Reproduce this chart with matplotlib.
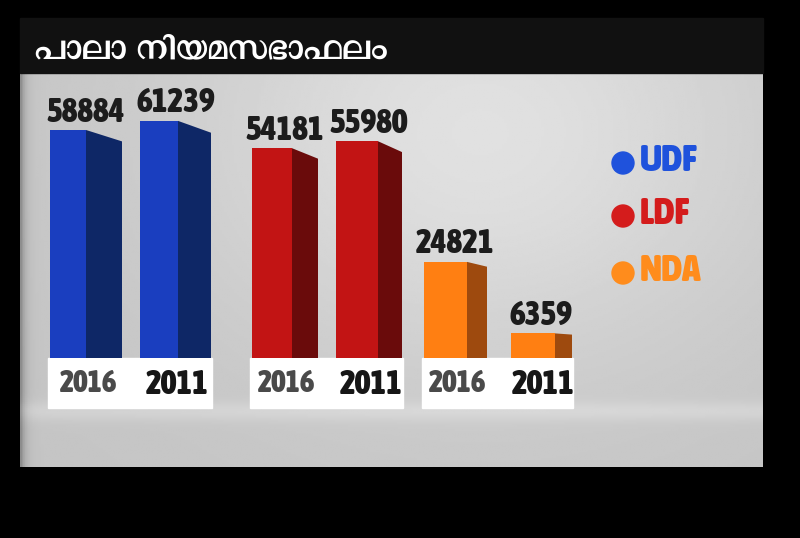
import numpy as np
import matplotlib.pyplot as plt
from matplotlib.patches import Rectangle, Polygon, Circle
from matplotlib import font_manager
from matplotlib.font_manager import FontProperties
from matplotlib.ft2font import FT2Font

# data
parties = ["UDF", "LDF", "NDA"]
years = ["2016", "2011"]
votes_2016 = [58884, 54181, 24821]
votes_2011 = [61239, 55980, 6359]
title = "പാലാ നിയമസഭാഫലം"

front_colors = ["#1a3ebf", "#c21414", "#ff7f12"]
side_colors = ["#0e2766", "#6a0b0b", "#9e4a0e"]
dot_colors = ["#1f52dc", "#d41c1c", "#ff8c1c"]

# bar layout in pixels: (front left, front right, side right)
pos_2016 = [(50, 86, 122), (252, 292, 318), (424, 467, 487)]
pos_2011 = [(140, 178, 211), (336, 378, 402), (511, 555, 572)]


def find_font(ch):
    # look for any installed font that has the glyph, bold first
    hits = []
    for f in font_manager.fontManager.ttflist:
        try:
            if ord(ch) in FT2Font(f.fname).get_charmap():
                hits.append(f)
        except Exception:
            pass
    hits.sort(key=lambda f: -int(f.weight) if str(f.weight).isdigit() else 0)
    return hits[0].fname if hits else None


def find_narrow_bold():
    best = None
    for f in font_manager.fontManager.ttflist:
        name = (f.name + " " + f.fname).lower()
        narrow = ("condensed" in name or "narrow" in name
                  or f.stretch in ("condensed", "semi-condensed", "extra-condensed"))
        w = f.weight if isinstance(f.weight, int) else 400
        if narrow and w >= 600 and "italic" not in name and "oblique" not in name:
            if best is None or w > best[0]:
                best = (w, f.fname)
    return best[1] if best else None


ml_path = find_font("\u0d2a")
narrow_path = find_narrow_bold()

if ml_path:
    title_font = FontProperties(fname=ml_path, size=29)
else:
    title_font = FontProperties(family="DejaVu Sans", weight="bold", size=29)

if narrow_path:
    def nfont(size):
        return FontProperties(fname=narrow_path, size=size)
    scale = 1.0
else:
    def nfont(size):
        return FontProperties(family="DejaVu Sans", weight="bold", size=size)
    scale = 0.78

fig = plt.figure(figsize=(8, 5.38), dpi=100, facecolor="black")

# decoration axes in pixel coordinates
bg = fig.add_axes([0, 0, 1, 1])
bg.set_xlim(0, 800)
bg.set_ylim(538, 0)
bg.axis("off")
bg.set_facecolor("black")

# grey gradient panel
gx, gy = np.meshgrid(np.linspace(0, 1, 300), np.linspace(0, 1, 200))
shade = 0.77 + 0.11 * np.exp(-((gx - 0.62) / 0.4) ** 2 - ((gy - 0.15) / 0.6) ** 2)
shade -= 0.22 * np.exp(-gx / 0.006)
shade += 0.05 * np.exp(-((gy - 0.86) / 0.025) ** 2)
bg.imshow(shade, cmap="gray", vmin=0, vmax=1, extent=(20, 763, 467, 73),
          aspect="auto", zorder=0)

# title bar
bg.add_patch(Rectangle((20, 18), 743, 55, color="#111111", zorder=1))
bg.text(34, 49, title, color="white", fontproperties=title_font,
        va="center", ha="left", zorder=2)

# white year boxes under each party
for p16, p11 in zip(pos_2016, pos_2011):
    x0 = p16[0] - 2
    x1 = p11[2] + 1
    bg.add_patch(Rectangle((x0, 358), x1 - x0, 50, color="white", zorder=1))

for p16, p11 in zip(pos_2016, pos_2011):
    bg.text((p16[0] + p16[2]) / 2 + 2, 384, years[0], color="#4a4a4a",
            fontproperties=nfont(22 * scale), ha="center", va="center")
    bg.text((p11[0] + p11[2]) / 2 + 2, 384, years[1], color="#161616",
            fontproperties=nfont(24 * scale), ha="center", va="center")

# legend
legend_y = [161, 214, 271]
for name, c, y in zip(parties, dot_colors, legend_y):
    bg.add_patch(Circle((623, y + 2), 11, color=c, zorder=2))
    bg.text(640, y, name, color=c, fontproperties=nfont(27 * scale),
            ha="left", va="center")

# bar axes: bottom at pixel 358, top at pixel 73
ax = fig.add_axes([0, (538 - 358) / 538, 1, 285 / 538])
ax.set_xlim(0, 800)
ax.set_ylim(0, 73600)
ax.axis("off")
ax.patch.set_alpha(0)

for votes, pos in [(votes_2016, pos_2016), (votes_2011, pos_2011)]:
    for v, (xl, xr, xs), fc, sc in zip(votes, pos, front_colors, side_colors):
        ax.bar(xl, v, width=xr - xl, align="edge", color=fc, linewidth=0)
        ax.add_patch(Polygon([(xr, 0), (xs, 0), (xs, v * 0.95), (xr, v)],
                             closed=True, color=sc, linewidth=0))
        ax.annotate(f"{v}", ((xl + xs) / 2, v), xytext=(0, 1),
                    textcoords="offset points", ha="center", va="bottom",
                    fontproperties=nfont(24 * scale), color="#1c1c1c")

fig.savefig("out.png", dpi=100, facecolor="black")
